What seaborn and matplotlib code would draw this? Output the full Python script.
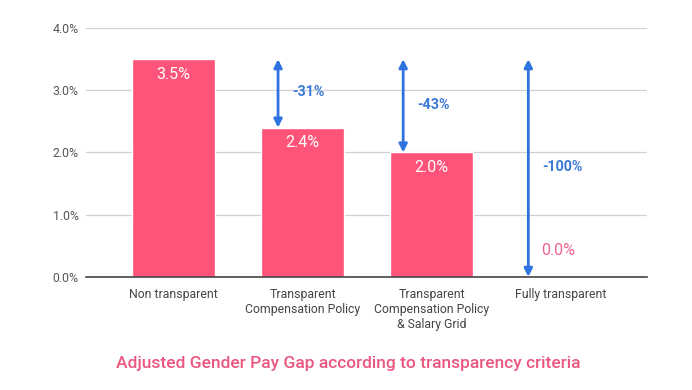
import matplotlib
matplotlib.use("Agg")
import matplotlib.pyplot as plt
import seaborn as sns

sns.set_style("white")
plt.rcParams['font.family'] = ['Roboto', 'DejaVu Sans']

# data
categories = ["Non transparent", "Transparent\nCompensation Policy",
              "Transparent\nCompensation Policy\n& Salary Grid", "Fully transparent"]
gap_values = [3.5, 2.4, 2.0, 0.0]
reductions = ["-31%", "-43%", "-100%"]

bar_color = "#FF5479"
arrow_color = "#2F74DE"
label_blue = "#3A78D6"

fig = plt.figure(figsize=(6.92, 3.90), dpi=100)
ax = fig.add_axes([0.124, 0.290, 0.811, 0.638])

sns.barplot(x=categories, y=gap_values, color=bar_color, width=0.64,
            saturation=1, ax=ax, zorder=3)

ax.set_ylim(0, 4)
ax.set_xlim(-0.68, 3.67)
ax.set_yticks([0, 1, 2, 3, 4])
ax.set_yticklabels([f"{v:.1f}%" for v in [0, 1, 2, 3, 4]])
ax.yaxis.grid(True, color="#d0d0d0", lw=0.9, zorder=0)
for s in ["top", "right", "left"]:
    ax.spines[s].set_visible(False)
ax.spines["bottom"].set_color("#444444")
ax.spines["bottom"].set_linewidth(1.2)
ax.spines["bottom"].set_zorder(4)
ax.tick_params(axis="y", length=0, pad=5, labelsize=8.8, labelcolor="#555555")
ax.tick_params(axis="x", length=0, pad=8, labelsize=8.8, labelcolor="#444444")
ax.set_xlabel("")
ax.set_ylabel("")

# value labels
for i, v in enumerate(gap_values):
    if v > 0:
        ax.text(i, v - 0.12, f"{v:.1f}%", ha="center", va="top",
                color="white", fontsize=11.5, zorder=5)
    else:
        ax.text(i - 0.15, 0.42, f"{v:.1f}%", ha="left", va="center",
                color="#F0648C", fontsize=11.5, zorder=5)

# reduction arrows
base = gap_values[0]
arrow_x = [0.81, 1.78, 2.75]
for k, (xa, red) in enumerate(zip(arrow_x, reductions)):
    target = gap_values[k + 1]
    ax.annotate("", xy=(xa, target), xytext=(xa, base),
                arrowprops=dict(arrowstyle="<|-|>", color=arrow_color, lw=2,
                                mutation_scale=12, shrinkA=0, shrinkB=0),
                zorder=6)
    ax.text(xa + 0.11, (base + target) / 2 + 0.02, red, ha="left", va="center",
            color=label_blue, fontsize=10.3, fontweight="bold", zorder=6)

fig.text(0.503, 0.068, "Adjusted Gender Pay Gap according to transparency criteria",
         ha="center", va="center", color="#E9577F", fontsize=12.5,
         fontweight="medium")

fig.savefig("out.png", dpi=100)
